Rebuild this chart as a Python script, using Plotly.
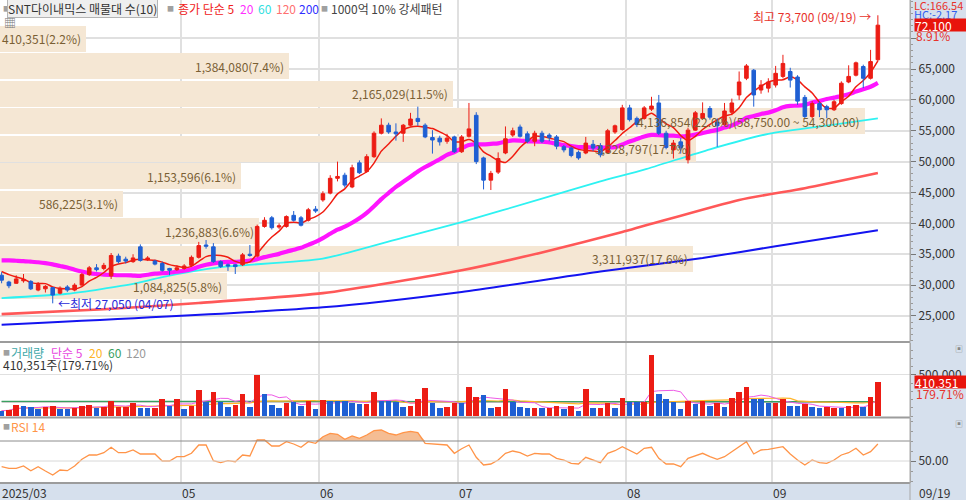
import numpy as np
import pandas as pd
import plotly.graph_objects as go

# --- 거래일 (휴장일 제외) ---
holidays = ["2025-05-01", "2025-05-05", "2025-05-06", "2025-06-03", "2025-06-06", "2025-08-15"]
dates = [d for d in pd.bdate_range("2025-03-27", "2025-09-19") if d.strftime("%Y-%m-%d") not in holidays]

# --- 일봉 (시가, 고가, 저가, 종가) ---
opens = [31600, 30500, 30300, 30700, 30600, 29200, 29400, 29600, 28700, 29700,
         29200, 30000, 31700, 32800, 32700, 31500, 34700, 34200, 33800, 36200,
         34100, 33900, 33500, 32700, 32500, 32700, 33200, 34500, 36500, 36200,
         33800, 33300, 33300, 33300, 35000, 34700, 39500, 40900, 39400, 39500,
         41300, 40900, 40500, 42300, 43800, 44900, 47300, 47800, 45900, 49800,
         48400, 50800, 54600, 55900, 54800, 54600, 55900, 57000, 55900, 53900,
         53800, 53300, 54000, 51600, 54100, 57500, 50600, 47000, 48300, 51400,
         54300, 55600, 54500, 53300, 54600, 54300, 54000, 52400, 52200, 51500,
         51400, 52800, 52600, 51500, 54800, 55200, 58700, 57000, 57000, 58500,
         59500, 54600, 51900, 53200, 50300, 55100, 57000, 58600, 56400, 56000,
         58000, 60800, 63500, 64800, 61600, 61900, 62400, 63800, 64600, 63700,
         60400, 57300, 59400, 58900, 58400, 59400, 62900, 64000, 65400, 63500,
         66500]
highs = [32100, 30700, 31600, 31800, 30800, 30500, 30000, 29700, 29800, 30000,
         30300, 32000, 33100, 33400, 33600, 35200, 35100, 34600, 35000, 36600,
         34700, 34100, 33800, 32800, 33200, 33400, 34800, 37000, 37300, 36800,
         34000, 33500, 33400, 35200, 36500, 39800, 41000, 41200, 40000, 41300,
         42000, 41200, 42500, 42800, 45200, 47800, 50000, 48200, 49500, 50200,
         51200, 54900, 57000, 56300, 56200, 56100, 57900, 58900, 56200, 55100,
         54200, 54500, 54200, 54300, 59500, 58000, 50800, 48500, 51500, 55700,
         55500, 56000, 54900, 55000, 55000, 54600, 54300, 52700, 52400, 51800,
         54000, 53500, 53000, 55300, 56000, 59200, 59200, 57300, 59000, 60500,
         60800, 55000, 53500, 53800, 55500, 58200, 59600, 59000, 57000, 59500,
         60200, 64600, 65800, 65000, 63200, 63500, 65500, 67300, 65200, 64000,
         60800, 59800, 59800, 59200, 60000, 63000, 65600, 66200, 65700, 68100,
         73700]
lows = [30300, 29500, 30200, 30400, 29200, 29000, 28800, 27050, 28500, 28900,
        29000, 29900, 31500, 32200, 32400, 31000, 33500, 33500, 33600, 33800,
        33900, 33200, 32200, 31600, 32300, 32500, 33000, 34300, 35900, 33600,
        32800, 32300, 31800, 33100, 34600, 34500, 39300, 39000, 39100, 39300,
        40300, 39500, 40300, 41700, 43500, 44700, 46800, 45800, 45700, 48000,
        48200, 50600, 54400, 54500, 53400, 53200, 55700, 55800, 53800, 51300,
        52600, 52900, 51400, 51400, 53900, 49600, 45500, 45400, 48000, 51200,
        54000, 53900, 53000, 52500, 53000, 53300, 52000, 51500, 50700, 50300,
        51200, 51700, 50700, 51300, 54500, 55000, 56500, 55600, 56800, 58200,
        54300, 52000, 50500, 51300, 49700, 55000, 56800, 56800, 52400, 55800,
        57500, 60000, 63200, 58900, 61000, 61200, 62000, 63500, 62000, 59200,
        57000, 57000, 57200, 57000, 58200, 59200, 62700, 63800, 61900, 63300,
        66300]
closes = [30800, 29900, 31000, 30900, 29400, 30100, 29800, 28400, 29500, 29200,
          30000, 31700, 32800, 32500, 33200, 34800, 33800, 33900, 34400, 34000,
          34400, 33400, 32400, 32400, 32800, 33100, 34500, 36400, 36300, 33800,
          33000, 33100, 33000, 34900, 34800, 39500, 40500, 39300, 39600, 41100,
          40500, 39700, 42200, 42000, 44800, 47300, 47600, 46200, 49000, 48200,
          50800, 54600, 55900, 54800, 54500, 55900, 56900, 56500, 54000, 53500,
          53200, 53800, 51600, 54000, 55300, 50000, 47000, 48100, 50500, 53700,
          55000, 54100, 53300, 54600, 53300, 53900, 52500, 51900, 51000, 50600,
          53000, 52200, 51100, 55000, 55800, 58700, 56800, 56000, 58700, 59000,
          54600, 52300, 53000, 52200, 55100, 57900, 57800, 57200, 55800, 58200,
          59500, 62900, 65500, 60800, 62400, 62900, 64300, 65900, 63200, 59800,
          57300, 59400, 58400, 58400, 59700, 62700, 63800, 66000, 63500, 66200,
          72100]

# --- 거래량 (1 = 적색, 0 = 청색) ---
volumes = [65000, 73000, 134000, 126000, 106000, 81000, 114000, 122000, 85000, 85000,
           101000, 122000, 134000, 101000, 106000, 183000, 106000, 106000, 162000, 101000,
           101000, 101000, 203000, 122000, 203000, 89000, 122000, 317000, 175000, 288000,
           175000, 114000, 138000, 268000, 114000, 499000, 268000, 134000, 101000, 162000,
           166000, 126000, 183000, 81000, 195000, 183000, 183000, 183000, 154000, 146000,
           146000, 288000, 183000, 183000, 175000, 114000, 126000, 203000, 345000, 154000,
           101000, 114000, 154000, 154000, 357000, 235000, 256000, 101000, 114000, 325000,
           175000, 114000, 93000, 101000, 93000, 93000, 122000, 81000, 122000, 65000,
           325000, 93000, 93000, 154000, 101000, 223000, 175000, 175000, 175000, 743000,
           268000, 203000, 175000, 81000, 187000, 142000, 183000, 126000, 162000, 114000,
           215000, 296000, 357000, 203000, 203000, 154000, 162000, 203000, 126000, 126000,
           142000, 114000, 93000, 106000, 93000, 93000, 122000, 134000, 106000, 228340,
           410351]
vol_up = [0, 1, 1, 0, 0, 0, 1, 1, 0, 0, 1, 1, 1, 0, 1, 1, 1, 1, 1, 0,
          0, 1, 1, 0, 1, 0, 1, 1, 0, 1, 0, 0, 1, 1, 0, 1, 0, 0, 0, 1,
          0, 0, 1, 0, 1, 0, 0, 0, 0, 0, 1, 1, 0, 0, 0, 0, 1, 1, 1, 0,
          0, 1, 1, 0, 1, 1, 0, 0, 1, 1, 0, 0, 0, 1, 0, 1, 1, 0, 1, 0,
          1, 0, 1, 1, 0, 1, 0, 0, 1, 1, 0, 0, 0, 0, 1, 0, 1, 0, 1, 0,
          1, 1, 1, 0, 0, 0, 1, 1, 0, 0, 1, 0, 0, 1, 1, 0, 1, 1, 0, 1,
          1]

# --- RSI 14 ---
rsi14 = [44.3, 42.7, 42.7, 45.0, 40.3, 44.3, 40.0, 36.0, 41.0, 40.3,
         45.0, 51.7, 56.0, 56.0, 58.3, 63.7, 58.3, 58.3, 61.0, 57.0,
         57.0, 57.0, 50.0, 50.0, 54.3, 54.3, 57.7, 66.0, 66.0, 50.3,
         48.3, 50.3, 49.3, 56.0, 55.0, 71.0, 71.0, 65.0, 65.0, 69.3,
         67.0, 63.7, 69.3, 67.7, 74.3, 77.7, 76.7, 71.7, 75.0, 72.7,
         76.0, 80.3, 81.0, 77.7, 76.0, 78.3, 79.7, 78.3, 67.7, 67.0,
         66.0, 66.0, 57.7, 62.3, 66.0, 53.7, 46.0, 47.0, 51.0, 57.7,
         60.0, 58.3, 55.0, 57.7, 57.0, 57.0, 52.7, 51.0, 47.7, 47.0,
         53.7, 51.0, 48.3, 57.7, 60.3, 64.3, 61.0, 57.0, 62.7, 63.7,
         52.7, 47.0, 47.0, 44.3, 52.7, 55.0, 57.7, 54.3, 51.7, 54.3,
         59.3, 65.0, 69.3, 57.0, 61.0, 61.7, 62.7, 64.3, 57.0, 51.0,
         46.0, 51.0, 48.3, 47.7, 51.0, 56.0, 58.3, 62.7, 56.0, 59.3,
         67.0]

# --- 이동평균 ---
ma5_head = [32200, 31700, 31300, 31000]
ma20_head = [34000, 34000, 33950, 33900, 33800, 33700, 33550, 33350, 33100, 32850,
             32500, 32200, 31950, 31800, 31700, 31650, 31600, 31600, 31550]
ma60_idx = [0, 9, 18, 22, 30, 44, 55, 63, 74, 82, 88, 97, 105, 114, 120]
ma60_val = [27900, 28600, 30200, 31300, 32900, 34300, 37700, 40200, 44000, 46800,
            48700, 52000, 54500, 56000, 57000]
ma120_idx = [0, 14, 27, 44, 63, 74, 85, 101, 110, 120]
ma120_val = [25300, 26100, 27100, 28700, 32400, 35300, 38600, 43800, 45700, 48150]
ma200_idx = [0, 44, 63, 82, 96, 106, 120]
ma200_val = [23600, 26400, 28900, 32200, 34400, 36300, 38900]
vma60_idx = [0, 60, 120]
vma60_val = [178000, 180000, 176000]
vma120_idx = [0, 60, 120]
vma120_val = [172000, 172000, 168000]

# --- 매물대 (10구간) ---
band_low = [67650, 63200, 58750, 54300, 49850, 45400, 40950, 36500, 32050, 27600]
band_high = [72100, 67650, 63200, 58750, 54300, 49850, 45400, 40950, 36500, 32050]
band_vol = [410351, 1384080, 2165029, 4136854, 3328797, 1153596, 586225, 1236883, 3311937, 1084825]
band_pct = [2.2, 7.4, 11.5, 22.0, 17.7, 6.1, 3.1, 6.6, 17.6, 5.8]

month_labels = ["05", "06", "07", "08", "09"]
price_ticks = [25000, 30000, 35000, 40000, 45000, 50000, 55000, 60000, 65000, 70000]

# --- 스타일 ---
RED = "#ec1c14"
BLUE = "#1f5fd3"
GRID = "#e0e0e0"
BAND = "#f5e7d4"
BAND_TXT = "#7a5f34"
AXIS_BG = "#d6e0ed"
FONT = "Noto Sans CJK KR, Noto Sans, sans-serif"
W, H = 966, 500
XD = 910 / W
XR = [-0.22, 124.4]


def py(y):
    # 화면 픽셀 y -> paper 좌표
    return 1 - y / H


def px(x):
    return x / W


n = len(dates)
xi = np.arange(n)
close_s = pd.Series(closes, dtype=float)
ma5 = close_s.rolling(5).mean().to_numpy()
ma5[:len(ma5_head)] = ma5_head
ma20 = close_s.rolling(20).mean().to_numpy()
ma20[:len(ma20_head)] = ma20_head
vol_s = pd.Series(volumes, dtype=float)
vma5 = vol_s.rolling(5, min_periods=1).mean()
vma20 = vol_s.rolling(20, min_periods=1).mean()

months = pd.DatetimeIndex(dates).strftime("%m")
grid_x = [i - 0.5 for i in range(1, n) if months[i] != months[i - 1] and months[i] in month_labels]

fig = go.Figure()

# 매물대 가로 막대
band_mid = [(a + b) / 2 for a, b in zip(band_low, band_high)]
fig.add_trace(go.Bar(
    x=band_vol, y=band_mid, base=0, orientation="h",
    width=[(b - a) * 0.94 for a, b in zip(band_low, band_high)],
    marker=dict(color=BAND, line=dict(width=0)),
    xaxis="x", yaxis="y", hoverinfo="skip", showlegend=False,
))

# 이동평균선
for xs, ys, color, width in [
    (ma200_idx, ma200_val, "#1414f0", 2),
    (ma120_idx, ma120_val, "#ff5858", 2.6),
    (ma60_idx, ma60_val, "#2ef2f2", 1.8),
    (xi, ma20, "#ff14ff", 4.2),
    (xi, ma5, "#f01c10", 1.5),
]:
    fig.add_trace(go.Scatter(
        x=xs, y=ys, mode="lines", line=dict(color=color, width=width, shape="spline", smoothing=0.6),
        xaxis="x2", yaxis="y", hoverinfo="skip", showlegend=False,
    ))

# 캔들
fig.add_trace(go.Candlestick(
    x=xi, open=opens, high=highs, low=lows, close=closes,
    increasing=dict(line=dict(color=RED, width=1), fillcolor=RED),
    decreasing=dict(line=dict(color=BLUE, width=1), fillcolor=BLUE),
    whiskerwidth=0, xaxis="x5", yaxis="y", hoverinfo="skip", showlegend=False,
))

# 거래량 이동평균 (막대 뒤)
for xs, ys, color, width in [
    (vma120_idx, vma120_val, "#9a9a9a", 1.2),
    (vma60_idx, vma60_val, "#3aa060", 1.2),
    (xi, vma20, "#ffb428", 1.2),
    (xi, vma5, "#ee5ae6", 1),
]:
    fig.add_trace(go.Scatter(
        x=xs, y=ys, mode="lines", line=dict(color=color, width=width),
        xaxis="x3", yaxis="y2", hoverinfo="skip", showlegend=False,
    ))

fig.add_trace(go.Bar(
    x=xi, y=volumes, width=0.76,
    marker=dict(color=[RED if u else BLUE for u in vol_up], line=dict(width=0)),
    xaxis="x3", yaxis="y3", hoverinfo="skip", showlegend=False,
))

# RSI
rsi = np.array(rsi14)
fig.add_trace(go.Scatter(x=xi, y=np.full(n, 70.0), mode="lines", line=dict(width=0),
                         xaxis="x4", yaxis="y4", hoverinfo="skip", showlegend=False))
fig.add_trace(go.Scatter(x=xi, y=np.maximum(rsi, 70), mode="lines", line=dict(width=0),
                         fill="tonexty", fillcolor="#f5bd93",
                         xaxis="x4", yaxis="y4", hoverinfo="skip", showlegend=False))
fig.add_trace(go.Scatter(x=xi, y=rsi, mode="lines", line=dict(color="#ff9448", width=1.3),
                         xaxis="x4", yaxis="y4", hoverinfo="skip", showlegend=False))

# --- 축 ---
date_axis = dict(range=XR, tickmode="array", tickvals=grid_x, showticklabels=False,
                 showgrid=True, gridcolor=GRID, gridwidth=1.5, zeroline=False,
                 domain=[0, XD], rangeslider=dict(visible=False), fixedrange=True)
right_axis = dict(side="right", showline=True, linecolor="#a8a8a8", linewidth=1,
                  ticks="outside", ticklen=5, tickcolor="#777", zeroline=False,
                  tickfont=dict(size=12, color="#333", family=FONT), fixedrange=True)

fig.update_layout(
    width=W, height=H, autosize=False,
    margin=dict(l=0, r=0, t=0, b=0),
    paper_bgcolor=AXIS_BG, plot_bgcolor="white",
    font=dict(family=FONT, size=12, color="#333"),
    showlegend=False, hovermode=False, bargap=0,
    xaxis=dict(range=[0, max(band_vol) * 910 / 865], visible=False, domain=[0, XD],
               anchor="y", fixedrange=True, showgrid=False),
    xaxis2=dict(date_axis, overlaying="x", anchor="y"),
    xaxis5=dict(range=XR, overlaying="x", anchor="y", visible=False,
                rangeslider=dict(visible=False), showgrid=False),
    yaxis=dict(right_axis, domain=[py(341), 1], range=[20950, 76175], anchor="x",
               tickvals=price_ticks,
               ticktext=[f"{v:,}" if v < 70000 else "" for v in price_ticks],
               showgrid=True, gridcolor=GRID, gridwidth=1.5,
               minor=dict(dtick=1000, ticks="outside", ticklen=2, tickcolor="#999", showgrid=False)),
    xaxis3=dict(date_axis, anchor="y2"),
    yaxis2=dict(right_axis, domain=[py(417), py(343)], range=[-12180, 889140], anchor="x3",
                tickvals=[500000], ticktext=["500,000"], showgrid=True, gridcolor=GRID,
                minor=dict(dtick=100000, ticks="outside", ticklen=2, tickcolor="#999", showgrid=False)),
    yaxis3=dict(range=[-12180, 889140], overlaying="y2", anchor="x3", visible=False, showgrid=False),
    xaxis4=dict(date_axis, anchor="y4"),
    yaxis4=dict(right_axis, domain=[py(483), py(418)], range=[28, 93], anchor="x4",
                tickvals=[50], ticktext=["50.00"], showgrid=False,
                minor=dict(dtick=10, ticks="outside", ticklen=2, tickcolor="#999", showgrid=False)),
)

shapes = [
    dict(type="line", xref="paper", yref="y4", x0=0, x1=XD, y0=70, y1=70, line=dict(color="#8c8c8c", width=1)),
    dict(type="line", xref="paper", yref="y4", x0=0, x1=XD, y0=50, y1=50, line=dict(color="#d8d8d8", width=1)),
    dict(type="line", xref="paper", yref="paper", x0=0, x1=XD, y0=py(342), y1=py(342), line=dict(color="#9c9c9c", width=2)),
    dict(type="line", xref="paper", yref="paper", x0=0, x1=XD, y0=py(417.5), y1=py(417.5), line=dict(color="#9c9c9c", width=2)),
    dict(type="line", xref="paper", yref="paper", x0=0, x1=XD, y0=py(483), y1=py(483), line=dict(color="#9c9c9c", width=2)),
    dict(type="line", xref="paper", yref="paper", x0=XD, x1=XD, y0=0, y1=1, line=dict(color="#a8a8a8", width=1)),
]
fig.update_layout(shapes=shapes)

ann = []


def label(x, y, text, color="#333", size=12, xanchor="left", **kw):
    ann.append(dict(x=x, y=y, text=text, showarrow=False, xanchor=xanchor, yanchor="middle",
                    font=dict(color=color, size=size, family=FONT), **kw))


# 매물대 라벨
top_band = int(np.argmax(band_vol))
for k, (v, p) in enumerate(zip(band_vol, band_pct)):
    t = f"{v:,}({p:.1f}%)"
    if k == top_band:
        t += f"({band_high[k]:,.2f} ~ {band_low[k]:,.2f})"
    label(v, band_mid[k], t, BAND_TXT, 12, xanchor="right", xref="x", yref="y", xshift=-3)

# 최고 / 최저
hi_i = int(np.argmax(highs))
lo_i = int(np.argmin(lows))
label(hi_i, highs[hi_i], f"최고 {highs[hi_i]:,} ({dates[hi_i]:%m/%d}) →", "#e8322b", 12,
      xanchor="right", xref="x2", yref="y", xshift=-5, yshift=-1)
label(lo_i, lows[lo_i], f"←최저 {lows[lo_i]:,} ({dates[lo_i]:%m/%d})", "#2a2ad8", 12,
      xanchor="left", xref="x2", yref="y", xshift=3)

# 상단 범례
label(px(1), py(8), "■", "#a0a0a0", 7, xref="paper", yref="paper")
label(px(7), py(8), "SNT다이내믹스 매물대 수(10)", "#333", 12, xref="paper", yref="paper",
      bgcolor="#efefef", bordercolor="#b4b4b4", borderwidth=1, borderpad=0)
label(px(165), py(8), "■", "#a0a0a0", 7, xref="paper", yref="paper")
label(px(176), py(8), "종가 단순 5", "#f02020", 12, xref="paper", yref="paper")
label(px(238), py(8), "20", "#ff30ff", 12, xref="paper", yref="paper")
label(px(256), py(8), "60", "#30e0e0", 12, xref="paper", yref="paper")
label(px(274), py(8), "120", "#ff7070", 12, xref="paper", yref="paper")
label(px(297), py(8), "200", "#3030ff", 12, xref="paper", yref="paper")
label(px(319), py(8), "■", "#a0a0a0", 7, xref="paper", yref="paper")
label(px(329), py(8), "1000억 10% 강세패턴", "#444", 12, xref="paper", yref="paper")
label(px(2), py(22), "▦", "#777", 12, xref="paper", yref="paper")

# 거래량 범례
label(px(1), py(352), "■", "#a0a0a0", 7, xref="paper", yref="paper")
label(px(9), py(352), "거래량", "#40a8a8", 12, xref="paper", yref="paper")
label(px(49), py(352), "단순 5", "#e848e0", 12, xref="paper", yref="paper")
label(px(87), py(352), "20", "#ffb428", 12, xref="paper", yref="paper")
label(px(106), py(352), "60", "#3aa060", 12, xref="paper", yref="paper")
label(px(124), py(352), "120", "#999", 12, xref="paper", yref="paper")
label(px(1), py(364), f"{volumes[-1]:,}주({volumes[-1] / volumes[-2] * 100:.2f}%)", "#333", 12,
      xref="paper", yref="paper")

# RSI 범례
label(px(1), py(426), "■", "#a0a0a0", 7, xref="paper", yref="paper")
label(px(9), py(426), "RSI 14", "#ff9448", 12, xref="paper", yref="paper")

# 우측 가격 표시
chg = (closes[-1] / closes[-2] - 1) * 100
label(px(912), py(5), "LC:166.54", "#e8322b", 11, xref="paper", yref="paper")
label(px(912), py(14), "HC:-2.17", "#3060f0", 11, xref="paper", yref="paper")
label(px(914), closes[-1], f"{closes[-1]:,}", "white", 12, xref="paper", yref="y",
      bgcolor="#e8140c", width=52, height=12, align="left", borderpad=0)
label(px(914), py(36), f"{chg:.2f}%", "#e8322b", 12, xref="paper", yref="paper")
label(px(914), volumes[-1], f"{volumes[-1]:,}", "white", 12, xref="paper", yref="y2",
      bgcolor="#e8140c", width=52, height=12, align="left", borderpad=0)
label(px(914), py(393), f"{volumes[-1] / volumes[-2] * 100:.2f}%", "#e8322b", 12, xref="paper", yref="paper")
label(px(953), py(348), "▣", "#888", 8, xref="paper", yref="paper")
label(px(953), py(423), "▣", "#888", 8, xref="paper", yref="paper")

# 하단 날짜
label(0, py(492), f"{dates[0]:%Y/%m}", "#333", 12, xref="paper", yref="paper")
for gx, m in zip(grid_x, month_labels):
    label(gx, py(492), m, "#333", 12, xref="x4", yref="paper", xshift=-1)
label(px(917), py(492), f"{dates[-1]:%m/%d}", "#333", 12, xref="paper", yref="paper")

fig.update_layout(annotations=ann)
# 페이지 여백 제거 (창 크기에 맞춤)
fig.write_html("out.html", config={"displayModeBar": False},
               post_script="document.body.style.margin='0';")
